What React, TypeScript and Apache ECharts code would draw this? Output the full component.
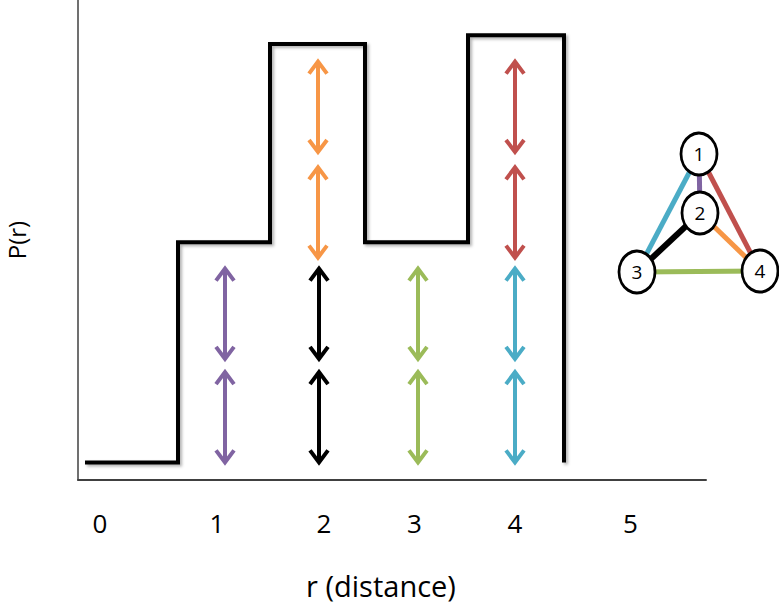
import React, { useEffect, useRef } from "react";
import * as echarts from "echarts";

// ---- data ----
const tickLabels = ["0", "1", "2", "3", "4", "5"];
const tickPositions = [-0.2, 0.97, 2.04, 2.945, 3.95, 5.105];

const stepEdges = [-0.35, 0.58, 1.5, 2.45, 3.48, 4.44];
const stepLevels = [0, 1, 1.9, 1, 1.94, 0];

const arrowR = [1.05, 1.05, 1.99, 1.99, 1.98, 1.98, 2.98, 2.98, 3.95, 3.95, 3.95, 3.95];
const arrowLow = [0.0, 0.47, 0.0, 0.47, 0.93, 1.41, 0.0, 0.47, 0.0, 0.47, 0.93, 1.41];
const arrowHigh = [0.41, 0.88, 0.41, 0.88, 1.34, 1.82, 0.41, 0.88, 0.41, 0.88, 1.34, 1.82];
const arrowColor = [
  "#8064A2", "#8064A2",
  "#000000", "#000000",
  "#F79646", "#F79646",
  "#9BBB59", "#9BBB59",
  "#4BACC6", "#4BACC6",
  "#C0504D", "#C0504D",
];

const nodeNames = ["1", "2", "3", "4"];
const nodeX = [699, 700, 637, 760];
const nodeY = [154, 213, 272, 271];
const edgeSource = ["1", "1", "1", "2", "2", "3"];
const edgeTarget = ["2", "3", "4", "3", "4", "4"];
const edgeColor = ["#8064A2", "#4BACC6", "#C0504D", "#000000", "#F79646", "#9BBB59"];

const FONT = "Open Sans";

export default function App() {
  const ref = useRef<HTMLDivElement>(null);

  useEffect(() => {
    document.body.style.margin = "0";
    if (!ref.current) return;
    const chart = echarts.init(ref.current, null, { renderer: "svg" });

    const stepData = stepEdges.map((x, i) => [x, stepLevels[i]]);
    const arrowData = arrowR.map((r, i) => [r, arrowLow[i], arrowHigh[i]]);

    const option: any = {
      animation: false,
      backgroundColor: "#ffffff",
      grid: {
        left: 78,
        top: 0,
        width: 628,
        height: 480,
        containLabel: false,
        outerBoundsMode: "none",
      },
      xAxis: {
        type: "value",
        min: -0.42,
        max: 5.86,
        name: "r (distance)",
        nameLocation: "middle",
        nameGap: 105,
        nameTextStyle: {
          fontFamily: FONT,
          fontSize: 29,
          lineHeight: 32,
          color: "#000",
          verticalAlign: "middle",
          padding: [0, 22, 0, 0],
        },
        axisLine: { show: true, onZero: false, lineStyle: { color: "#404040", width: 2 } },
        axisTick: { show: false },
        splitLine: { show: false },
        axisLabel: {
          show: true,
          customValues: tickPositions,
          margin: 43,
          verticalAlign: "middle",
          fontFamily: FONT,
          fontSize: 26,
          color: "#000",
          formatter: (v: number) => {
            let best = 0;
            let bd = Infinity;
            tickPositions.forEach((p, i) => {
              const d = Math.abs(p - v);
              if (d < bd) {
                bd = d;
                best = i;
              }
            });
            return tickLabels[best];
          },
        },
      },
      yAxis: {
        type: "value",
        min: -0.08,
        max: 2.1,
        name: "P(r)",
        nameLocation: "middle",
        nameRotate: 90,
        nameGap: 62,
        nameTextStyle: {
          fontFamily: FONT,
          fontSize: 24,
          lineHeight: 26,
          color: "#000",
          verticalAlign: "middle",
        },
        axisLine: { show: true, onZero: false, lineStyle: { color: "#404040", width: 1.5 } },
        axisTick: { show: false },
        axisLabel: { show: false },
        splitLine: { show: false },
      },
      series: [
        {
          type: "line",
          data: stepData,
          step: "end",
          symbol: "none",
          silent: true,
          lineStyle: {
            color: "#000",
            width: 4,
            join: "miter",
            cap: "butt",
            shadowColor: "rgba(0,0,0,0.3)",
            shadowBlur: 3,
            shadowOffsetX: 2,
            shadowOffsetY: 2,
          },
          z: 2,
        },
        {
          type: "custom",
          data: arrowData,
          silent: true,
          encode: { x: 0, y: [1, 2] },
          renderItem: (params: any, api: any) => {
            const i = params.dataIndex;
            const x = api.value(0);
            const lo = api.coord([x, api.value(1)]);
            const hi = api.coord([x, api.value(2)]);
            const c = arrowColor[i];
            const hw = 9;
            const hh = 12;
            const style = {
              stroke: c,
              lineWidth: 4,
              fill: null,
              lineJoin: "miter",
              lineCap: "butt",
            };
            return {
              type: "group",
              children: [
                {
                  type: "line",
                  shape: { x1: lo[0], y1: lo[1] - 2, x2: hi[0], y2: hi[1] + 2 },
                  style,
                },
                {
                  type: "polyline",
                  shape: {
                    points: [
                      [hi[0] - hw, hi[1] + hh],
                      [hi[0], hi[1]],
                      [hi[0] + hw, hi[1] + hh],
                    ],
                  },
                  style,
                },
                {
                  type: "polyline",
                  shape: {
                    points: [
                      [lo[0] - hw, lo[1] - hh],
                      [lo[0], lo[1]],
                      [lo[0] + hw, lo[1] - hh],
                    ],
                  },
                  style,
                },
              ],
            };
          },
          z: 3,
        },
        {
          type: "graph",
          layout: "none",
          left: 637,
          top: 154,
          width: 123,
          height: 118,
          roam: false,
          silent: true,
          symbol: "circle",
          symbolSize: [36, 42],
          nodeScaleRatio: 1,
          itemStyle: { color: "#ffffff", borderColor: "#000000", borderWidth: 3 },
          label: {
            show: true,
            position: "inside",
            color: "#000",
            fontFamily: FONT,
            fontSize: 19,
          },
          data: nodeNames.map((n, i) => ({ name: n, x: nodeX[i], y: nodeY[i] })),
          links: edgeSource.map((s, i) => ({
            source: s,
            target: edgeTarget[i],
            lineStyle: { color: edgeColor[i], width: edgeColor[i] === "#000000" ? 6 : 5, opacity: 1 },
          })),
          lineStyle: { width: 5, opacity: 1, curveness: 0 },
          emphasis: { disabled: true },
          z: 4,
        },
      ],
    };

    chart.setOption(option);
    return () => chart.dispose();
  }, []);

  return <div ref={ref} style={{ width: 779, height: 606 }} />;
}
